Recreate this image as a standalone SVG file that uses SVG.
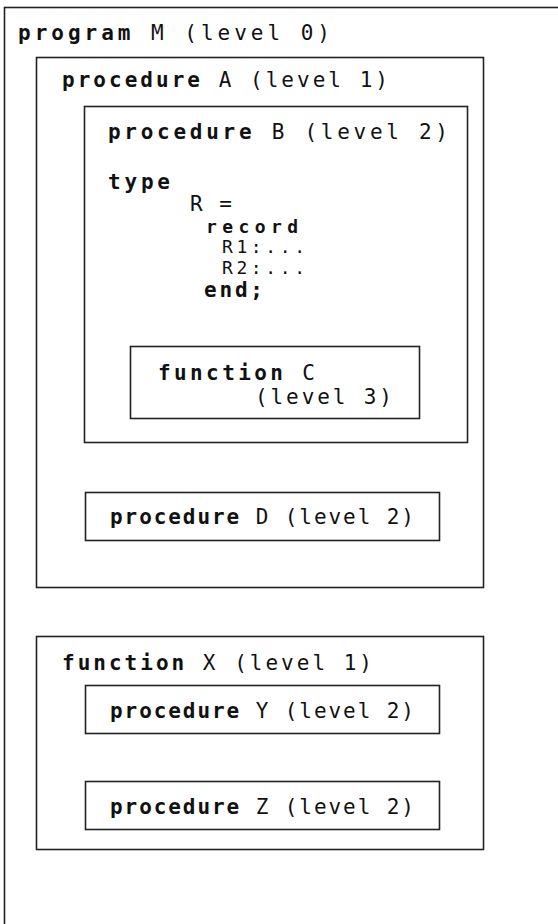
<svg xmlns="http://www.w3.org/2000/svg" width="558" height="924" viewBox="0 0 558 924">
<style>
.box{fill:none;stroke:#222;stroke-width:1.6}
text{font-family:"DejaVu Sans Mono","Liberation Mono",monospace;font-size:21px;fill:#111}
.kw{font-weight:bold}
.sm{font-size:18px}
</style>
<rect width="558" height="924" fill="#fff"/>
<g id="programM">
<rect class="box" x="4.5" y="7.5" width="560" height="930"/>
<text x="18" y="40" textLength="312" lengthAdjust="spacing"><tspan class="kw">program</tspan> M (level 0)</text>
</g>
<g id="procedureA">
<rect class="box" x="36.5" y="57.5" width="447" height="530"/>
<text x="62" y="87" textLength="326" lengthAdjust="spacing"><tspan class="kw">procedure</tspan> A (level 1)</text>
</g>
<g id="procedureB">
<rect class="box" x="84.5" y="106.5" width="383" height="336"/>
<text x="108" y="139" textLength="340" lengthAdjust="spacing"><tspan class="kw">procedure</tspan> B (level 2)</text>
<text class="kw" x="108" y="189" textLength="62" lengthAdjust="spacing">type</text>
<text x="190" y="211" textLength="42" lengthAdjust="spacing">R =</text>
<text class="kw sm" x="206" y="233" textLength="92" lengthAdjust="spacing">record</text>
<text class="sm" x="222" y="253" textLength="83" lengthAdjust="spacing">R1:...</text>
<text class="sm" x="222" y="274" textLength="83" lengthAdjust="spacing">R2:...</text>
<text class="kw" x="204" y="297" textLength="59" lengthAdjust="spacing">end;</text>
</g>
<g id="functionC">
<rect class="box" x="130.5" y="346.5" width="289" height="72"/>
<text x="158" y="380" textLength="157" lengthAdjust="spacing"><tspan class="kw">function</tspan> C</text>
<text x="255" y="404" textLength="137" lengthAdjust="spacing">(level 3)</text>
</g>
<g id="procedureD">
<rect class="box" x="85.5" y="492.5" width="354" height="48"/>
<text x="110" y="524" textLength="304" lengthAdjust="spacing"><tspan class="kw">procedure</tspan> D (level 2)</text>
</g>
<g id="functionX">
<rect class="box" x="36.5" y="636.5" width="447" height="213"/>
<text x="62" y="670" textLength="310" lengthAdjust="spacing"><tspan class="kw">function</tspan> X (level 1)</text>
</g>
<g id="procedureY">
<rect class="box" x="85.5" y="685.5" width="354" height="48"/>
<text x="110" y="718" textLength="304" lengthAdjust="spacing"><tspan class="kw">procedure</tspan> Y (level 2)</text>
</g>
<g id="procedureZ">
<rect class="box" x="85.5" y="781.5" width="354" height="48"/>
<text x="110" y="814" textLength="304" lengthAdjust="spacing"><tspan class="kw">procedure</tspan> Z (level 2)</text>
</g>
<g id="connectors"></g>
</svg>
